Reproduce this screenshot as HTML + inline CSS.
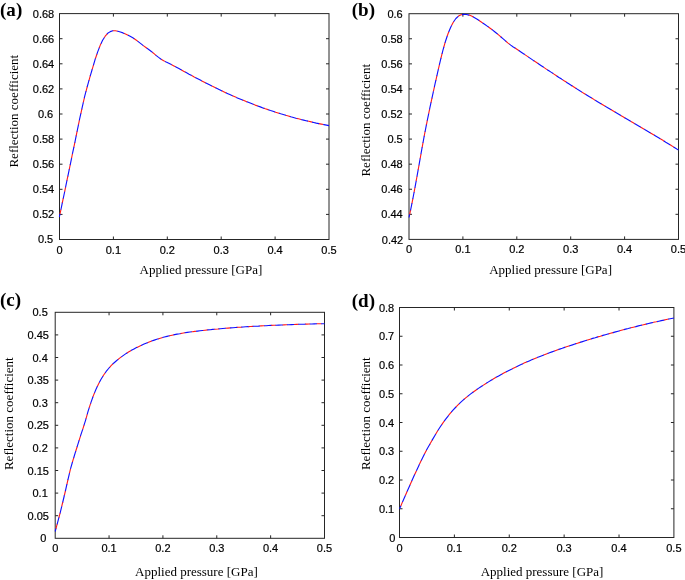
<!DOCTYPE html>
<html><head><meta charset="utf-8"><title>Reflection coefficient vs applied pressure</title>
<style>
html,body{margin:0;padding:0;background:#fff}
svg{display:block}
.t{font-family:"Liberation Sans",Arial,sans-serif;font-size:11px;fill:#000;stroke:#000;stroke-width:0.2px}
.s{font-family:"Liberation Serif","Times New Roman",serif;font-size:13px;fill:#000}
.p{font-family:"Liberation Serif","Times New Roman",serif;font-size:18px;font-weight:bold;fill:#000}
</style></head><body>
<svg width="685" height="580" viewBox="0 0 685 580">
<rect width="685" height="580" fill="#fff"/>

<g id="plot-a">
<rect x="59.5" y="13.6" width="269.50" height="225.90" fill="none" stroke="#262626" stroke-width="1"/>
<path d="M113.40 239.5v-3.0M113.40 13.6v3.0M167.30 239.5v-3.0M167.30 13.6v3.0M221.20 239.5v-3.0M221.20 13.6v3.0M275.10 239.5v-3.0M275.10 13.6v3.0M59.5 214.40h3.0M329.0 214.40h-3.0M59.5 189.30h3.0M329.0 189.30h-3.0M59.5 164.20h3.0M329.0 164.20h-3.0M59.5 139.10h3.0M329.0 139.10h-3.0M59.5 114.00h3.0M329.0 114.00h-3.0M59.5 88.90h3.0M329.0 88.90h-3.0M59.5 63.80h3.0M329.0 63.80h-3.0M59.5 38.70h3.0M329.0 38.70h-3.0" stroke="#262626" stroke-width="1" fill="none"/>
<path d="M59.4 217.0 L61.9 204.8 L64.5 192.5 L67.0 180.2 L69.6 167.9 L72.1 155.5 L74.7 143.2 L77.2 130.9 L79.7 118.7 L82.3 106.9 L84.8 95.9 L87.4 86.1 L89.9 77.2 L92.5 68.3 L95.0 59.8 L97.6 52.1 L100.1 45.6 L102.6 40.3 L105.2 36.2 L107.7 33.3 L110.3 31.6 L112.8 30.8 L115.4 30.8 L117.9 31.3 L120.4 32.0 L123.0 32.9 L125.5 34.0 L128.1 35.2 L130.6 36.5 L133.2 38.0 L135.7 39.7 L138.2 41.6 L140.8 43.6 L143.3 45.6 L145.9 47.5 L148.4 49.3 L151.0 51.2 L153.5 53.2 L156.0 55.4 L158.6 57.4 L161.1 59.2 L163.7 60.7 L166.2 62.0 L168.8 63.2 L171.3 64.5 L173.9 65.9 L176.4 67.2 L178.9 68.6 L181.5 70.0 L184.0 71.4 L186.6 72.8 L189.1 74.2 L191.7 75.5 L194.2 76.9 L196.7 78.2 L199.3 79.6 L201.8 80.9 L204.4 82.2 L206.9 83.5 L209.5 84.8 L212.0 86.1 L214.5 87.3 L217.1 88.6 L219.6 89.8 L222.2 91.0 L224.7 92.2 L227.3 93.4 L229.8 94.5 L232.4 95.7 L234.9 96.8 L237.4 97.9 L240.0 99.0 L242.5 100.0 L245.1 101.1 L247.6 102.1 L250.2 103.1 L252.7 104.1 L255.2 105.1 L257.8 106.0 L260.3 106.9 L262.9 107.9 L265.4 108.8 L268.0 109.6 L270.5 110.5 L273.0 111.3 L275.6 112.2 L278.1 113.0 L280.7 113.8 L283.2 114.5 L285.8 115.3 L288.3 116.0 L290.8 116.8 L293.4 117.5 L295.9 118.2 L298.5 118.8 L301.0 119.5 L303.6 120.1 L306.1 120.7 L308.7 121.3 L311.2 121.9 L313.7 122.5 L316.3 123.1 L318.8 123.6 L321.4 124.1 L323.9 124.6 L326.5 125.1 L329.0 125.6" stroke="#ff1a1a" stroke-width="1.12" fill="none" stroke-linejoin="round" stroke-dasharray="5 6.4" stroke-dashoffset="8.6"/>
<path d="M59.4 217.0 L61.9 204.8 L64.5 192.5 L67.0 180.2 L69.6 167.9 L72.1 155.5 L74.7 143.2 L77.2 130.9 L79.7 118.7 L82.3 106.9 L84.8 95.9 L87.4 86.1 L89.9 77.2 L92.5 68.3 L95.0 59.8 L97.6 52.1 L100.1 45.6 L102.6 40.3 L105.2 36.2 L107.7 33.3 L110.3 31.6 L112.8 30.8 L115.4 30.8 L117.9 31.3 L120.4 32.0 L123.0 32.9 L125.5 34.0 L128.1 35.2 L130.6 36.5 L133.2 38.0 L135.7 39.7 L138.2 41.6 L140.8 43.6 L143.3 45.6 L145.9 47.5 L148.4 49.3 L151.0 51.2 L153.5 53.2 L156.0 55.4 L158.6 57.4 L161.1 59.2 L163.7 60.7 L166.2 62.0 L168.8 63.2 L171.3 64.5 L173.9 65.9 L176.4 67.2 L178.9 68.6 L181.5 70.0 L184.0 71.4 L186.6 72.8 L189.1 74.2 L191.7 75.5 L194.2 76.9 L196.7 78.2 L199.3 79.6 L201.8 80.9 L204.4 82.2 L206.9 83.5 L209.5 84.8 L212.0 86.1 L214.5 87.3 L217.1 88.6 L219.6 89.8 L222.2 91.0 L224.7 92.2 L227.3 93.4 L229.8 94.5 L232.4 95.7 L234.9 96.8 L237.4 97.9 L240.0 99.0 L242.5 100.0 L245.1 101.1 L247.6 102.1 L250.2 103.1 L252.7 104.1 L255.2 105.1 L257.8 106.0 L260.3 106.9 L262.9 107.9 L265.4 108.8 L268.0 109.6 L270.5 110.5 L273.0 111.3 L275.6 112.2 L278.1 113.0 L280.7 113.8 L283.2 114.5 L285.8 115.3 L288.3 116.0 L290.8 116.8 L293.4 117.5 L295.9 118.2 L298.5 118.8 L301.0 119.5 L303.6 120.1 L306.1 120.7 L308.7 121.3 L311.2 121.9 L313.7 122.5 L316.3 123.1 L318.8 123.6 L321.4 124.1 L323.9 124.6 L326.5 125.1 L329.0 125.6" stroke="#1010ff" stroke-width="1.12" fill="none" stroke-linejoin="round" stroke-dasharray="7.2 4.2" stroke-dashoffset="4"/>
<text class="t" x="59.5" y="253.5" text-anchor="middle">0</text>
<text class="t" x="113.4" y="253.5" text-anchor="middle">0.1</text>
<text class="t" x="167.3" y="253.5" text-anchor="middle">0.2</text>
<text class="t" x="221.2" y="253.5" text-anchor="middle">0.3</text>
<text class="t" x="275.1" y="253.5" text-anchor="middle">0.4</text>
<text class="t" x="329.0" y="253.5" text-anchor="middle">0.5</text>
<text class="t" x="53.20" y="242.9" text-anchor="end">0.5</text>
<text class="t" x="54.20" y="218.4" text-anchor="end">0.52</text>
<text class="t" x="54.20" y="193.3" text-anchor="end">0.54</text>
<text class="t" x="54.20" y="168.2" text-anchor="end">0.56</text>
<text class="t" x="54.20" y="143.1" text-anchor="end">0.58</text>
<text class="t" x="53.20" y="118.0" text-anchor="end">0.6</text>
<text class="t" x="54.20" y="92.9" text-anchor="end">0.62</text>
<text class="t" x="54.20" y="67.8" text-anchor="end">0.64</text>
<text class="t" x="54.20" y="42.7" text-anchor="end">0.66</text>
<text class="t" x="54.20" y="17.6" text-anchor="end">0.68</text>
<text class="p" transform="translate(0.0 15.8) scale(1.06 1)">(a)</text>
<text class="s" transform="translate(17.6 111.2) rotate(-90)" text-anchor="middle">Reflection coefficient</text>
<text class="s" x="200.9" y="273.9" text-anchor="middle">Applied pressure [GPa]</text>
</g>
<g id="plot-b">
<rect x="409.0" y="13.7" width="269.50" height="225.70" fill="none" stroke="#262626" stroke-width="1"/>
<path d="M462.90 239.4v-3.0M462.90 13.7v3.0M516.80 239.4v-3.0M516.80 13.7v3.0M570.70 239.4v-3.0M570.70 13.7v3.0M624.60 239.4v-3.0M624.60 13.7v3.0M409.0 214.32h3.0M678.5 214.32h-3.0M409.0 189.24h3.0M678.5 189.24h-3.0M409.0 164.17h3.0M678.5 164.17h-3.0M409.0 139.09h3.0M678.5 139.09h-3.0M409.0 114.01h3.0M678.5 114.01h-3.0M409.0 88.93h3.0M678.5 88.93h-3.0M409.0 63.86h3.0M678.5 63.86h-3.0M409.0 38.78h3.0M678.5 38.78h-3.0" stroke="#262626" stroke-width="1" fill="none"/>
<path d="M409.0 217.5 L411.6 205.2 L414.2 191.7 L416.8 177.5 L419.4 162.9 L422.0 148.2 L424.6 134.0 L427.3 120.4 L429.9 107.7 L432.5 95.6 L435.1 83.7 L437.7 72.1 L440.3 60.8 L442.9 50.3 L445.5 41.2 L448.1 33.5 L450.7 27.2 L453.3 22.2 L455.9 18.5 L458.5 16.1 L461.1 14.8 L463.8 14.4 L466.4 14.5 L469.0 15.1 L471.6 16.1 L474.2 17.5 L476.8 19.0 L479.4 20.7 L482.0 22.5 L484.6 24.2 L487.2 26.1 L489.8 28.0 L492.4 29.9 L495.0 32.0 L497.7 34.1 L500.3 36.4 L502.9 38.6 L505.5 40.9 L508.1 43.1 L510.7 45.1 L513.3 47.0 L515.8 48.5 L518.4 50.3 L520.9 52.0 L523.5 53.7 L526.0 55.4 L528.5 57.1 L531.1 58.9 L533.6 60.6 L536.2 62.3 L538.7 64.0 L541.3 65.7 L543.8 67.4 L546.3 69.1 L548.9 70.8 L551.4 72.4 L554.0 74.1 L556.5 75.8 L559.0 77.5 L561.6 79.1 L564.1 80.8 L566.7 82.4 L569.2 84.0 L571.8 85.7 L574.3 87.3 L576.8 88.9 L579.4 90.5 L581.9 92.1 L584.5 93.7 L587.0 95.2 L589.5 96.8 L592.1 98.3 L594.6 99.9 L597.2 101.4 L599.7 102.9 L602.3 104.5 L604.8 106.0 L607.3 107.5 L609.9 109.0 L612.4 110.5 L615.0 112.0 L617.5 113.5 L620.0 115.0 L622.6 116.5 L625.1 118.0 L627.7 119.5 L630.2 121.0 L632.8 122.5 L635.3 124.0 L637.8 125.5 L640.4 127.0 L642.9 128.5 L645.5 130.0 L648.0 131.5 L650.5 133.0 L653.1 134.5 L655.6 136.0 L658.2 137.6 L660.7 139.1 L663.3 140.6 L665.8 142.2 L668.3 143.7 L670.9 145.3 L673.4 146.9 L676.0 148.5 L678.5 150.1" stroke="#ff1a1a" stroke-width="1.12" fill="none" stroke-linejoin="round" stroke-dasharray="5 6.4" stroke-dashoffset="8.6"/>
<path d="M409.0 217.5 L411.6 205.2 L414.2 191.7 L416.8 177.5 L419.4 162.9 L422.0 148.2 L424.6 134.0 L427.3 120.4 L429.9 107.7 L432.5 95.6 L435.1 83.7 L437.7 72.1 L440.3 60.8 L442.9 50.3 L445.5 41.2 L448.1 33.5 L450.7 27.2 L453.3 22.2 L455.9 18.5 L458.5 16.1 L461.1 14.8 L463.8 14.4 L466.4 14.5 L469.0 15.1 L471.6 16.1 L474.2 17.5 L476.8 19.0 L479.4 20.7 L482.0 22.5 L484.6 24.2 L487.2 26.1 L489.8 28.0 L492.4 29.9 L495.0 32.0 L497.7 34.1 L500.3 36.4 L502.9 38.6 L505.5 40.9 L508.1 43.1 L510.7 45.1 L513.3 47.0 L515.8 48.5 L518.4 50.3 L520.9 52.0 L523.5 53.7 L526.0 55.4 L528.5 57.1 L531.1 58.9 L533.6 60.6 L536.2 62.3 L538.7 64.0 L541.3 65.7 L543.8 67.4 L546.3 69.1 L548.9 70.8 L551.4 72.4 L554.0 74.1 L556.5 75.8 L559.0 77.5 L561.6 79.1 L564.1 80.8 L566.7 82.4 L569.2 84.0 L571.8 85.7 L574.3 87.3 L576.8 88.9 L579.4 90.5 L581.9 92.1 L584.5 93.7 L587.0 95.2 L589.5 96.8 L592.1 98.3 L594.6 99.9 L597.2 101.4 L599.7 102.9 L602.3 104.5 L604.8 106.0 L607.3 107.5 L609.9 109.0 L612.4 110.5 L615.0 112.0 L617.5 113.5 L620.0 115.0 L622.6 116.5 L625.1 118.0 L627.7 119.5 L630.2 121.0 L632.8 122.5 L635.3 124.0 L637.8 125.5 L640.4 127.0 L642.9 128.5 L645.5 130.0 L648.0 131.5 L650.5 133.0 L653.1 134.5 L655.6 136.0 L658.2 137.6 L660.7 139.1 L663.3 140.6 L665.8 142.2 L668.3 143.7 L670.9 145.3 L673.4 146.9 L676.0 148.5 L678.5 150.1" stroke="#1010ff" stroke-width="1.12" fill="none" stroke-linejoin="round" stroke-dasharray="7.2 4.2" stroke-dashoffset="4"/>
<text class="t" x="409.0" y="253.4" text-anchor="middle">0</text>
<text class="t" x="462.9" y="253.4" text-anchor="middle">0.1</text>
<text class="t" x="516.8" y="253.4" text-anchor="middle">0.2</text>
<text class="t" x="570.7" y="253.4" text-anchor="middle">0.3</text>
<text class="t" x="624.6" y="253.4" text-anchor="middle">0.4</text>
<text class="t" x="678.5" y="253.4" text-anchor="middle">0.5</text>
<text class="t" x="403.20" y="244.2" text-anchor="end">0.42</text>
<text class="t" x="402.70" y="218.3" text-anchor="end">0.44</text>
<text class="t" x="402.70" y="193.2" text-anchor="end">0.46</text>
<text class="t" x="402.70" y="168.2" text-anchor="end">0.48</text>
<text class="t" x="402.70" y="143.1" text-anchor="end">0.5</text>
<text class="t" x="402.70" y="118.0" text-anchor="end">0.52</text>
<text class="t" x="402.70" y="92.9" text-anchor="end">0.54</text>
<text class="t" x="402.70" y="67.9" text-anchor="end">0.56</text>
<text class="t" x="402.70" y="42.8" text-anchor="end">0.58</text>
<text class="t" x="402.70" y="17.7" text-anchor="end">0.6</text>
<text class="p" transform="translate(351.7 16.0) scale(1.06 1)">(b)</text>
<text class="s" transform="translate(370.2 120.2) rotate(-90)" text-anchor="middle">Reflection coefficient</text>
<text class="s" x="550.6" y="273.9" text-anchor="middle">Applied pressure [GPa]</text>
</g>
<g id="plot-c">
<rect x="55.2" y="312.3" width="269.30" height="226.00" fill="none" stroke="#262626" stroke-width="1"/>
<path d="M109.06 538.3v-3.0M109.06 312.3v3.0M162.92 538.3v-3.0M162.92 312.3v3.0M216.78 538.3v-3.0M216.78 312.3v3.0M270.64 538.3v-3.0M270.64 312.3v3.0M55.2 515.70h3.0M324.5 515.70h-3.0M55.2 493.10h3.0M324.5 493.10h-3.0M55.2 470.50h3.0M324.5 470.50h-3.0M55.2 447.90h3.0M324.5 447.90h-3.0M55.2 425.30h3.0M324.5 425.30h-3.0M55.2 402.70h3.0M324.5 402.70h-3.0M55.2 380.10h3.0M324.5 380.10h-3.0M55.2 357.50h3.0M324.5 357.50h-3.0M55.2 334.90h3.0M324.5 334.90h-3.0" stroke="#262626" stroke-width="1" fill="none"/>
<path d="M55.2 531.5 L57.7 522.1 L60.3 512.3 L62.8 502.0 L65.4 491.0 L67.9 479.8 L70.4 469.3 L73.0 460.2 L75.5 451.9 L78.1 443.7 L80.6 435.7 L83.1 428.1 L85.7 419.8 L88.2 410.9 L90.8 402.9 L93.3 395.9 L95.8 389.7 L98.4 384.2 L100.9 379.5 L103.5 375.3 L106.0 371.7 L108.6 368.5 L111.1 365.7 L113.6 363.2 L116.2 361.0 L118.7 358.9 L121.3 356.9 L123.8 355.1 L126.3 353.4 L128.9 351.8 L131.4 350.3 L134.0 348.9 L136.5 347.6 L139.0 346.4 L141.6 345.2 L144.1 344.1 L146.7 343.0 L149.2 342.0 L151.7 341.0 L154.3 340.1 L156.8 339.3 L159.4 338.5 L161.9 337.7 L164.4 337.0 L167.0 336.4 L169.5 335.8 L172.1 335.2 L174.6 334.6 L177.1 334.1 L179.7 333.7 L182.2 333.2 L184.8 332.8 L187.3 332.4 L189.9 332.0 L192.4 331.7 L194.9 331.4 L197.5 331.1 L200.0 330.8 L202.6 330.5 L205.1 330.2 L207.6 329.9 L210.2 329.7 L212.7 329.4 L215.3 329.2 L217.8 329.0 L220.3 328.7 L222.9 328.5 L225.4 328.3 L228.0 328.1 L230.5 327.9 L233.0 327.7 L235.6 327.5 L238.1 327.3 L240.7 327.2 L243.2 327.0 L245.7 326.8 L248.3 326.6 L250.8 326.5 L253.4 326.3 L255.9 326.2 L258.4 326.1 L261.0 325.9 L263.5 325.8 L266.1 325.7 L268.6 325.5 L271.1 325.4 L273.7 325.3 L276.2 325.2 L278.8 325.1 L281.3 325.0 L283.9 324.9 L286.4 324.8 L288.9 324.7 L291.5 324.6 L294.0 324.5 L296.6 324.4 L299.1 324.3 L301.6 324.3 L304.2 324.2 L306.7 324.1 L309.3 324.0 L311.8 324.0 L314.3 323.9 L316.9 323.8 L319.4 323.8 L322.0 323.7 L324.5 323.7" stroke="#ff1a1a" stroke-width="1.12" fill="none" stroke-linejoin="round" stroke-dasharray="5 6.4" stroke-dashoffset="8.6"/>
<path d="M55.2 531.5 L57.7 522.1 L60.3 512.3 L62.8 502.0 L65.4 491.0 L67.9 479.8 L70.4 469.3 L73.0 460.2 L75.5 451.9 L78.1 443.7 L80.6 435.7 L83.1 428.1 L85.7 419.8 L88.2 410.9 L90.8 402.9 L93.3 395.9 L95.8 389.7 L98.4 384.2 L100.9 379.5 L103.5 375.3 L106.0 371.7 L108.6 368.5 L111.1 365.7 L113.6 363.2 L116.2 361.0 L118.7 358.9 L121.3 356.9 L123.8 355.1 L126.3 353.4 L128.9 351.8 L131.4 350.3 L134.0 348.9 L136.5 347.6 L139.0 346.4 L141.6 345.2 L144.1 344.1 L146.7 343.0 L149.2 342.0 L151.7 341.0 L154.3 340.1 L156.8 339.3 L159.4 338.5 L161.9 337.7 L164.4 337.0 L167.0 336.4 L169.5 335.8 L172.1 335.2 L174.6 334.6 L177.1 334.1 L179.7 333.7 L182.2 333.2 L184.8 332.8 L187.3 332.4 L189.9 332.0 L192.4 331.7 L194.9 331.4 L197.5 331.1 L200.0 330.8 L202.6 330.5 L205.1 330.2 L207.6 329.9 L210.2 329.7 L212.7 329.4 L215.3 329.2 L217.8 329.0 L220.3 328.7 L222.9 328.5 L225.4 328.3 L228.0 328.1 L230.5 327.9 L233.0 327.7 L235.6 327.5 L238.1 327.3 L240.7 327.2 L243.2 327.0 L245.7 326.8 L248.3 326.6 L250.8 326.5 L253.4 326.3 L255.9 326.2 L258.4 326.1 L261.0 325.9 L263.5 325.8 L266.1 325.7 L268.6 325.5 L271.1 325.4 L273.7 325.3 L276.2 325.2 L278.8 325.1 L281.3 325.0 L283.9 324.9 L286.4 324.8 L288.9 324.7 L291.5 324.6 L294.0 324.5 L296.6 324.4 L299.1 324.3 L301.6 324.3 L304.2 324.2 L306.7 324.1 L309.3 324.0 L311.8 324.0 L314.3 323.9 L316.9 323.8 L319.4 323.8 L322.0 323.7 L324.5 323.7" stroke="#1010ff" stroke-width="1.12" fill="none" stroke-linejoin="round" stroke-dasharray="7.2 4.2" stroke-dashoffset="4"/>
<text class="t" x="55.2" y="552.3" text-anchor="middle">0</text>
<text class="t" x="109.1" y="552.3" text-anchor="middle">0.1</text>
<text class="t" x="162.9" y="552.3" text-anchor="middle">0.2</text>
<text class="t" x="216.8" y="552.3" text-anchor="middle">0.3</text>
<text class="t" x="270.6" y="552.3" text-anchor="middle">0.4</text>
<text class="t" x="324.5" y="552.3" text-anchor="middle">0.5</text>
<text class="t" x="46.40" y="542.3" text-anchor="end">0</text>
<text class="t" x="48.95" y="519.7" text-anchor="end">0.05</text>
<text class="t" x="47.80" y="497.1" text-anchor="end">0.1</text>
<text class="t" x="48.95" y="474.5" text-anchor="end">0.15</text>
<text class="t" x="47.80" y="451.9" text-anchor="end">0.2</text>
<text class="t" x="48.95" y="429.3" text-anchor="end">0.25</text>
<text class="t" x="47.80" y="406.7" text-anchor="end">0.3</text>
<text class="t" x="48.95" y="384.1" text-anchor="end">0.35</text>
<text class="t" x="47.80" y="361.5" text-anchor="end">0.4</text>
<text class="t" x="48.95" y="338.9" text-anchor="end">0.45</text>
<text class="t" x="47.80" y="316.3" text-anchor="end">0.5</text>
<text class="p" transform="translate(0.0 306.0) scale(1.06 1)">(c)</text>
<text class="s" transform="translate(13.0 413.7) rotate(-90)" text-anchor="middle">Reflection coefficient</text>
<text class="s" x="196.4" y="575.6" text-anchor="middle">Applied pressure [GPa]</text>
</g>
<g id="plot-d">
<rect x="399.5" y="307.5" width="274.40" height="230.00" fill="none" stroke="#262626" stroke-width="1"/>
<path d="M454.38 537.5v-3.0M454.38 307.5v3.0M509.26 537.5v-3.0M509.26 307.5v3.0M564.14 537.5v-3.0M564.14 307.5v3.0M619.02 537.5v-3.0M619.02 307.5v3.0M399.5 508.75h3.0M673.9 508.75h-3.0M399.5 480.00h3.0M673.9 480.00h-3.0M399.5 451.25h3.0M673.9 451.25h-3.0M399.5 422.50h3.0M673.9 422.50h-3.0M399.5 393.75h3.0M673.9 393.75h-3.0M399.5 365.00h3.0M673.9 365.00h-3.0M399.5 336.25h3.0M673.9 336.25h-3.0" stroke="#262626" stroke-width="1" fill="none"/>
<path d="M399.6 508.8 L402.1 502.9 L404.7 497.1 L407.2 491.3 L409.8 485.5 L412.3 479.8 L414.8 474.2 L417.4 468.7 L419.9 463.3 L422.5 458.0 L425.0 453.0 L427.5 448.2 L430.1 443.8 L432.6 439.4 L435.2 435.0 L437.7 430.8 L440.3 426.8 L442.8 423.1 L445.3 419.6 L447.9 416.3 L450.4 413.2 L453.0 410.2 L455.5 407.5 L458.0 404.9 L460.6 402.4 L463.1 400.1 L465.7 397.9 L468.2 395.9 L470.7 393.9 L473.3 392.0 L475.8 390.2 L478.4 388.4 L480.9 386.7 L483.4 385.1 L486.0 383.5 L488.5 381.9 L491.1 380.3 L493.6 378.8 L496.1 377.3 L498.7 375.9 L501.2 374.5 L503.8 373.1 L506.3 371.8 L508.9 370.4 L511.4 369.2 L513.9 367.9 L516.5 366.7 L519.0 365.5 L521.6 364.3 L524.1 363.1 L526.6 362.0 L529.2 360.9 L531.7 359.8 L534.3 358.7 L536.8 357.7 L539.3 356.7 L541.9 355.7 L544.4 354.7 L547.0 353.7 L549.5 352.8 L552.0 351.9 L554.6 350.9 L557.1 350.0 L559.7 349.1 L562.2 348.3 L564.7 347.4 L567.3 346.5 L569.8 345.7 L572.4 344.9 L574.9 344.0 L577.5 343.2 L580.0 342.4 L582.5 341.6 L585.1 340.8 L587.6 340.0 L590.2 339.2 L592.7 338.4 L595.2 337.7 L597.8 336.9 L600.3 336.2 L602.9 335.4 L605.4 334.7 L607.9 334.0 L610.5 333.3 L613.0 332.6 L615.6 331.9 L618.1 331.2 L620.6 330.5 L623.2 329.8 L625.7 329.1 L628.3 328.5 L630.8 327.8 L633.3 327.2 L635.9 326.6 L638.4 325.9 L641.0 325.3 L643.5 324.7 L646.1 324.1 L648.6 323.5 L651.1 322.9 L653.7 322.3 L656.2 321.8 L658.8 321.2 L661.3 320.6 L663.8 320.1 L666.4 319.5 L668.9 319.0 L671.5 318.5 L674.0 318.0" stroke="#ff1a1a" stroke-width="1.12" fill="none" stroke-linejoin="round" stroke-dasharray="5 6.4" stroke-dashoffset="8.6"/>
<path d="M399.6 508.8 L402.1 502.9 L404.7 497.1 L407.2 491.3 L409.8 485.5 L412.3 479.8 L414.8 474.2 L417.4 468.7 L419.9 463.3 L422.5 458.0 L425.0 453.0 L427.5 448.2 L430.1 443.8 L432.6 439.4 L435.2 435.0 L437.7 430.8 L440.3 426.8 L442.8 423.1 L445.3 419.6 L447.9 416.3 L450.4 413.2 L453.0 410.2 L455.5 407.5 L458.0 404.9 L460.6 402.4 L463.1 400.1 L465.7 397.9 L468.2 395.9 L470.7 393.9 L473.3 392.0 L475.8 390.2 L478.4 388.4 L480.9 386.7 L483.4 385.1 L486.0 383.5 L488.5 381.9 L491.1 380.3 L493.6 378.8 L496.1 377.3 L498.7 375.9 L501.2 374.5 L503.8 373.1 L506.3 371.8 L508.9 370.4 L511.4 369.2 L513.9 367.9 L516.5 366.7 L519.0 365.5 L521.6 364.3 L524.1 363.1 L526.6 362.0 L529.2 360.9 L531.7 359.8 L534.3 358.7 L536.8 357.7 L539.3 356.7 L541.9 355.7 L544.4 354.7 L547.0 353.7 L549.5 352.8 L552.0 351.9 L554.6 350.9 L557.1 350.0 L559.7 349.1 L562.2 348.3 L564.7 347.4 L567.3 346.5 L569.8 345.7 L572.4 344.9 L574.9 344.0 L577.5 343.2 L580.0 342.4 L582.5 341.6 L585.1 340.8 L587.6 340.0 L590.2 339.2 L592.7 338.4 L595.2 337.7 L597.8 336.9 L600.3 336.2 L602.9 335.4 L605.4 334.7 L607.9 334.0 L610.5 333.3 L613.0 332.6 L615.6 331.9 L618.1 331.2 L620.6 330.5 L623.2 329.8 L625.7 329.1 L628.3 328.5 L630.8 327.8 L633.3 327.2 L635.9 326.6 L638.4 325.9 L641.0 325.3 L643.5 324.7 L646.1 324.1 L648.6 323.5 L651.1 322.9 L653.7 322.3 L656.2 321.8 L658.8 321.2 L661.3 320.6 L663.8 320.1 L666.4 319.5 L668.9 319.0 L671.5 318.5 L674.0 318.0" stroke="#1010ff" stroke-width="1.12" fill="none" stroke-linejoin="round" stroke-dasharray="7.2 4.2" stroke-dashoffset="4"/>
<text class="t" x="399.5" y="552.0" text-anchor="middle">0</text>
<text class="t" x="454.4" y="552.0" text-anchor="middle">0.1</text>
<text class="t" x="509.3" y="552.0" text-anchor="middle">0.2</text>
<text class="t" x="564.1" y="552.0" text-anchor="middle">0.3</text>
<text class="t" x="619.0" y="552.0" text-anchor="middle">0.4</text>
<text class="t" x="673.9" y="552.0" text-anchor="middle">0.5</text>
<text class="t" x="395.40" y="542.1" text-anchor="end">0</text>
<text class="t" x="394.20" y="512.8" text-anchor="end">0.1</text>
<text class="t" x="394.20" y="484.0" text-anchor="end">0.2</text>
<text class="t" x="394.20" y="455.2" text-anchor="end">0.3</text>
<text class="t" x="394.20" y="426.5" text-anchor="end">0.4</text>
<text class="t" x="394.20" y="397.8" text-anchor="end">0.5</text>
<text class="t" x="394.20" y="369.0" text-anchor="end">0.6</text>
<text class="t" x="394.20" y="340.2" text-anchor="end">0.7</text>
<text class="t" x="394.20" y="311.5" text-anchor="end">0.8</text>
<text class="p" transform="translate(351.7 306.5) scale(1.06 1)">(d)</text>
<text class="s" transform="translate(370.2 413.7) rotate(-90)" text-anchor="middle">Reflection coefficient</text>
<text class="s" x="542.0" y="575.6" text-anchor="middle">Applied pressure [GPa]</text>
</g>
</svg></body></html>
